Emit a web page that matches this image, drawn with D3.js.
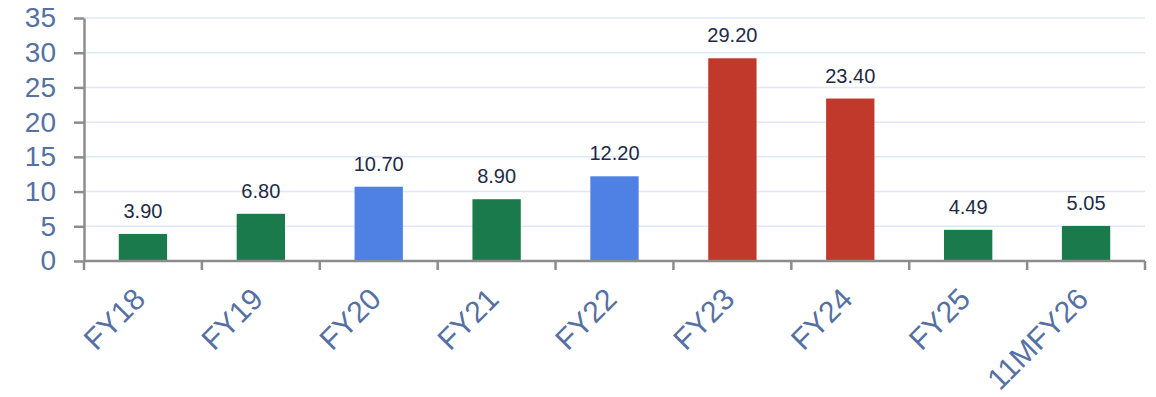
<!DOCTYPE html>
<html>
<head>
<meta charset="utf-8">
<script src="https://cdn.jsdelivr.net/npm/d3@7/dist/d3.min.js"></script>
<style>
body { margin: 0; background: #fff; }
svg { display: block; font-family: "Liberation Sans", Arial, sans-serif; }
</style>
</head>
<body>
<div id="chart"></div>
<script>
// chart data
var categories = ["FY18", "FY19", "FY20", "FY21", "FY22", "FY23", "FY24", "FY25", "11MFY26"];
var values = [3.90, 6.80, 10.70, 8.90, 12.20, 29.20, 23.40, 4.49, 5.05];
var groups = ["g", "g", "b", "g", "b", "r", "r", "g", "g"];
var yTicks = [0, 5, 10, 15, 20, 25, 30, 35];

var colors = { g: "#1b7a4b", b: "#4f81e5", r: "#c0392b" };

var w = 1156;
var h = 397;
var mLeft = 84, mRight = 1145, mTop = 18, mBottom = 261;

var xScale = d3.scaleBand().domain(categories).range([mLeft, mRight]).padding(0);
var yScale = d3.scaleLinear().domain([0, 35]).range([mBottom, mTop]);
var barW = xScale.bandwidth() * 0.41;

var svg = d3.select("#chart").append("svg").attr("width", w).attr("height", h);

// gridlines
svg.selectAll("line.grid")
    .data(yTicks.filter(function(d) { return d > 0; }))
    .enter()
    .append("line")
    .attr("class", "grid")
    .attr("x1", mLeft)
    .attr("x2", mRight)
    .attr("y1", function(d) { return yScale(d); })
    .attr("y2", function(d) { return yScale(d); })
    .attr("stroke", "#dfe8fb")
    .attr("stroke-width", 1.5);

// bars
svg.selectAll("rect")
    .data(values)
    .enter()
    .append("rect")
    .attr("x", function(d, i) { return xScale(categories[i]) + (xScale.bandwidth() - barW) / 2; })
    .attr("y", function(d) { return yScale(d); })
    .attr("width", barW)
    .attr("height", function(d) { return mBottom - yScale(d); })
    .attr("fill", function(d, i) { return colors[groups[i]]; });

// value labels
svg.selectAll("text.val")
    .data(values)
    .enter()
    .append("text")
    .attr("class", "val")
    .attr("x", function(d, i) { return xScale(categories[i]) + xScale.bandwidth() / 2; })
    .attr("y", function(d) { return yScale(d) - 16; })
    .attr("text-anchor", "middle")
    .attr("font-size", 20)
    .attr("fill", "#1e2a45")
    .text(function(d) { return d.toFixed(2); });

// y axis
var yAxis = d3.axisLeft(yScale).tickValues(yTicks).tickSize(10).tickSizeOuter(0).tickPadding(18);
var yG = svg.append("g").attr("transform", "translate(" + mLeft + ",0)").call(yAxis);
yG.select(".domain").attr("stroke", "#8c8c8c").attr("stroke-width", 2.5);
yG.selectAll(".tick line").attr("stroke", "#8c8c8c").attr("stroke-width", 2.5);
yG.selectAll(".tick text")
    .attr("font-size", 28)
    .attr("font-family", "Liberation Sans, Arial, sans-serif")
    .attr("fill", "#5570a3");

// x axis
var xTickPos = categories.map(function(c) { return xScale(c); }).concat([mRight]);
svg.append("line")
    .attr("x1", mLeft).attr("x2", mRight)
    .attr("y1", mBottom).attr("y2", mBottom)
    .attr("stroke", "#8c8c8c").attr("stroke-width", 2.5);
svg.selectAll("line.xtick")
    .data(xTickPos)
    .enter()
    .append("line")
    .attr("class", "xtick")
    .attr("x1", function(d) { return d; })
    .attr("x2", function(d) { return d; })
    .attr("y1", mBottom)
    .attr("y2", mBottom + 9)
    .attr("stroke", "#8c8c8c")
    .attr("stroke-width", 2.5);

svg.selectAll("text.xlab")
    .data(categories)
    .enter()
    .append("text")
    .attr("class", "xlab")
    .attr("text-anchor", "end")
    .attr("font-size", 30)
    .attr("fill", "#5570a3")
    .attr("transform", function(d) {
        var x = xScale(d) + xScale.bandwidth() / 2 + 4;
        return "translate(" + x + "," + (mBottom + 40) + ") rotate(-45)";
    })
    .text(function(d) { return d; });
</script>
</body>
</html>
